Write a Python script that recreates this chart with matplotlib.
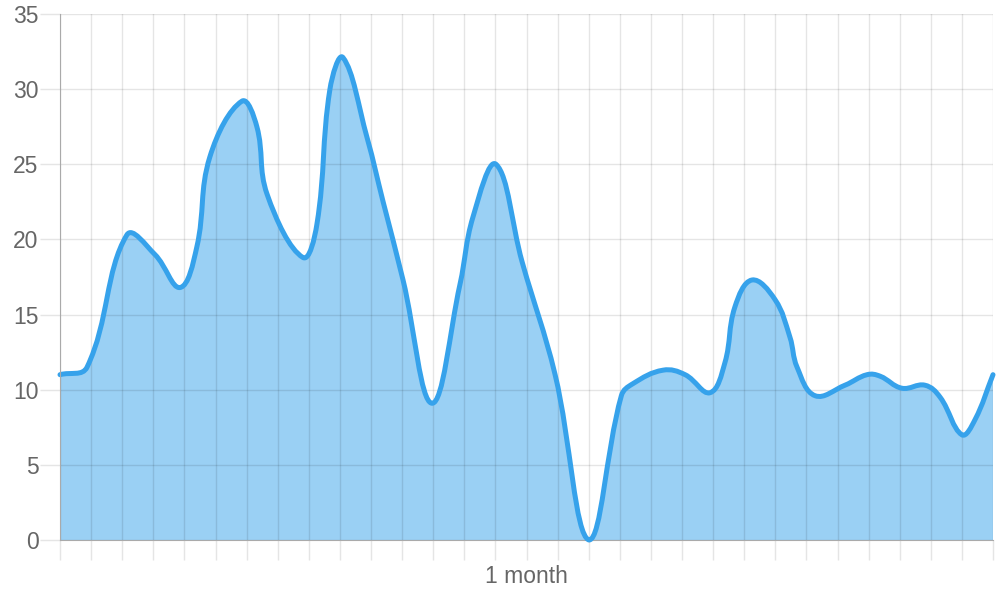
import numpy as np
import matplotlib.pyplot as plt
from matplotlib.path import Path
from matplotlib.patches import PathPatch

# sample positions (in days along the month) and values
days = [0.0, 0.87, 2.15, 3.05, 3.86, 4.4, 4.82, 5.85, 6.33, 6.66, 7.81, 8.26, 8.68,
        9.1, 9.87, 10.39, 11.03, 11.96, 12.86, 13.28, 14.02, 14.86, 15.92, 17.01,
        18.05, 18.42, 19.39, 20.1, 20.9, 21.38, 21.7, 22.25, 22.99, 23.47, 23.7,
        24.28, 25.24, 25.95, 26.37, 27.07, 27.81, 28.3, 29.0, 29.42, 30.0]
values = [11.0, 11.5, 20.3, 19.0, 16.8, 19.5, 25.5, 29.2, 27.5, 23.0, 18.8, 21.0, 30.0,
          32.1, 26.8, 22.5, 17.3, 9.1, 17.0, 21.5, 25.0, 18.5, 11.0, 0.0,
          9.6, 10.4, 11.3, 11.0, 9.8, 11.8, 15.5, 17.3, 16.0, 13.5, 11.5,
          9.6, 10.3, 11.0, 10.9, 10.1, 10.3, 9.5, 7.0, 8.0, 11.0]
y_ticks = [0, 5, 10, 15, 20, 25, 30, 35]
x_label = '1 month'

line_col = '#36a2eb'
fill_col = (54/255, 162/255, 235/255, 0.5)
text_col = '#666666'


def spline_verts(xs, ys, t=0.4, sx=31.1, sy=15.03, ylo=0, yhi=35):
    # bezier control points the same way chart.js builds them (tension 0.4)
    px = np.array(xs) * sx
    py = np.array(ys) * sy
    n = len(px)
    cp_prev = []
    cp_next = []
    for i in range(n):
        a = max(i - 1, 0)
        b = min(i + 1, n - 1)
        d01 = np.hypot(px[i] - px[a], py[i] - py[a])
        d12 = np.hypot(px[b] - px[i], py[b] - py[i])
        s01 = d01 / (d01 + d12) if d01 + d12 > 0 else 0
        s12 = d12 / (d01 + d12) if d01 + d12 > 0 else 0
        fa = t * s01
        fb = t * s12
        cp_prev.append((px[i] - fa * (px[b] - px[a]), py[i] - fa * (py[b] - py[a])))
        cp_next.append((px[i] + fb * (px[b] - px[a]), py[i] + fb * (py[b] - py[a])))

    def back(p):
        return (p[0] / sx, min(max(p[1] / sy, ylo), yhi))

    verts = [(xs[0], ys[0])]
    codes = [Path.MOVETO]
    for i in range(n - 1):
        verts += [back(cp_next[i]), back(cp_prev[i + 1]), (xs[i + 1], ys[i + 1])]
        codes += [Path.CURVE4] * 3
    return verts, codes


fig = plt.figure(figsize=(10, 6), dpi=100)
ax = fig.add_axes([0.06, 0.1, 0.933, 526 / 600])

verts, codes = spline_verts(days, values)
fill_verts = verts + [(days[-1], 0), (days[0], 0), verts[0]]
fill_codes = codes + [Path.LINETO, Path.LINETO, Path.CLOSEPOLY]
ax.add_patch(PathPatch(Path(fill_verts, fill_codes), facecolor=fill_col, edgecolor='none', zorder=1))
ax.add_patch(PathPatch(Path(verts, codes), facecolor='none', edgecolor=line_col, lw=3.6,
                       capstyle='round', joinstyle='round', zorder=3, clip_on=False))

ax.set_xlim(0, 30)
ax.set_ylim(0, 35)
ax.set_xticks(range(0, 31))
ax.set_xticklabels([])
ax.set_yticks(y_ticks)
ax.set_yticklabels([str(v) for v in y_ticks])
ax.grid(True, color='black', alpha=0.1, lw=1)
for gl in ax.get_xgridlines() + ax.get_ygridlines():
    gl.set_zorder(2)

ax.tick_params(axis='x', length=14.4, width=1, color='#e5e5e5')
ax.tick_params(axis='y', length=14.4, width=1, color='#e5e5e5', labelsize=16.5,
               labelcolor=text_col, pad=1)
for side in ['top', 'right']:
    ax.spines[side].set_visible(False)
ax.spines['left'].set_color('#aaaaaa')
ax.spines['bottom'].set_color('#aaaaaa')
ax.spines['left'].set_zorder(4)
ax.spines['bottom'].set_zorder(2.5)

for lab in ax.get_yticklabels():
    lab.set_fontfamily('Liberation Sans')

ax.set_xlabel(x_label, fontsize=16.5, color=text_col, family='Liberation Sans', labelpad=0)

fig.savefig('out.png', dpi=100)
